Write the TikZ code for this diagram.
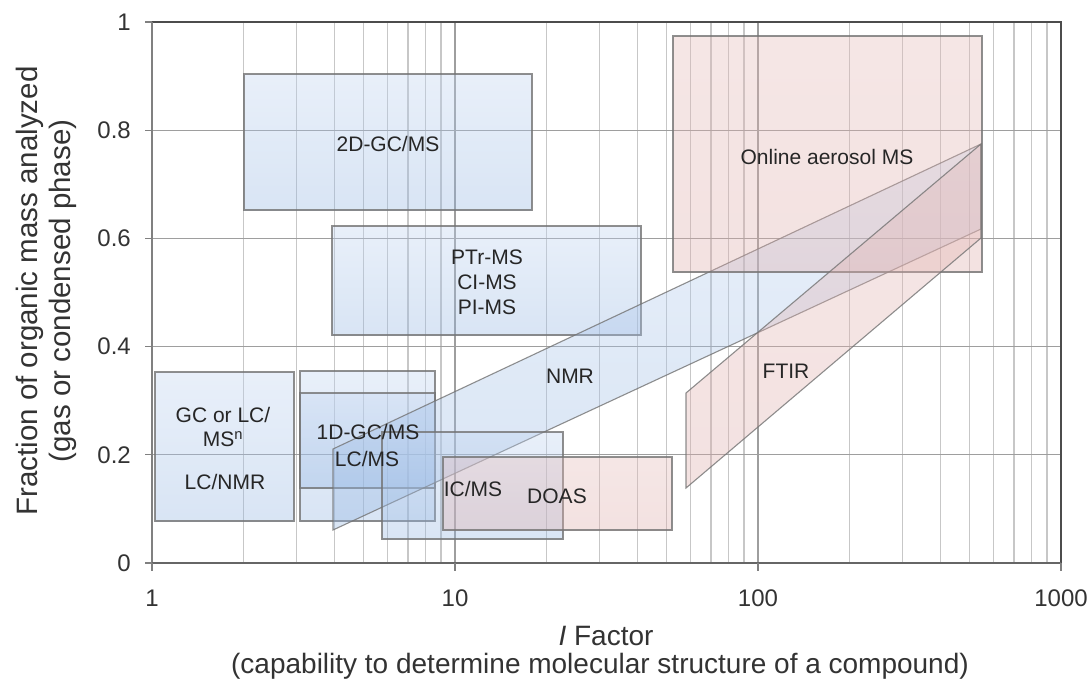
\documentclass[tikz,border=0pt]{standalone}
\usepackage{fontspec}
\setmainfont{Liberation Sans}
\begin{document}
\begin{tikzpicture}[x=1pt,y=-1pt,
  gridminor/.style={draw=black!22, line width=1.3pt},
  gridmajor/.style={draw=black!38, line width=1.3pt},
  bluebox/.style={draw=black!55, draw opacity=0.8, line width=1.1pt, top color=blueTop, bottom color=blueBot, fill opacity=0.35},
  pinkbox/.style={draw=black!55, draw opacity=0.8, line width=1.1pt, top color=pinkTop, bottom color=pinkBot, fill opacity=0.35},
  lbl/.style={text=black!85, font=\fontsize{21}{24}\selectfont, inner sep=0pt, align=center},
  tick/.style={text=black!80, font=\fontsize{24}{28}\selectfont, inner sep=0pt},
  title/.style={text=black!80, font=\fontsize{29.5}{33}\selectfont, inner sep=0pt, align=center}]
\definecolor{blueTop}{RGB}{192,212,241}
\definecolor{blueBot}{RGB}{146,181,226}
\definecolor{pinkTop}{RGB}{228,186,183}
\definecolor{pinkBot}{RGB}{222,172,170}
\useasboundingbox (0,0) rectangle (1090,683);
\fill[white] (0,0) rectangle (1090,683);
% grid
\foreach \d in {0,1,2}{
  \foreach \k in {2,...,9}{
    \draw[gridminor] ({152+303*(\d+log10(\k))},22) -- ({152+303*(\d+log10(\k))},563);
  }
}
\foreach \d in {1,2}{
  \draw[gridmajor] ({152+303*\d},22) -- ({152+303*\d},563);
}
\foreach \f in {0.2,0.4,0.6,0.8}{
  \draw[gridmajor] (152,{563-541*\f}) -- (1061,{563-541*\f});
}
% frame
\draw[black!70, line width=1.6pt] (152,22) -- (1061,22) -- (1061,563);
\draw[black!50, line width=1.3pt] (152,22) -- (152,563);
\draw[black!60, line width=1.5pt] (152,563) -- (1061,563);
\foreach \f in {0,0.2,0.4,0.6,0.8,1}{
  \draw[black!50, line width=1.3pt] (145,{563-541*\f}) -- (152,{563-541*\f});
}
\foreach \d in {0,1,2,3}{
  \draw[black!50, line width=1.3pt] ({152+303*\d},563) -- ({152+303*\d},571);
}
% data shapes
\path[bluebox] (244,74) rectangle (532,210);
\path[bluebox] (332,226) rectangle (641,335);
\path[bluebox] (155,372) rectangle (294,521);
\path[bluebox] (300,371) rectangle (435,521);
\path[bluebox] (300,393) rectangle (435,488);
\path[bluebox] (333,449) -- (981,144) -- (981,229) -- (333,530) -- cycle;
\path[bluebox] (382,432) rectangle (563,539);
\path[pinkbox] (443,457) rectangle (672,530);
\path[pinkbox] (673,36) rectangle (982,272);
\path[pinkbox] (686,393) -- (981,144) -- (981,238) -- (686,488) -- cycle;
% labels
\node[lbl] (gc1) at (223,415) {GC or LC/};
\node[lbl] (gc2) at (223,439) {MS\textsuperscript{n}};
\node[lbl] (lcnmr) at (225,482) {LC/NMR};
\node[lbl] (oned) at (368,432) {1D-GC/MS};
\node[lbl] (lcms) at (367,459) {LC/MS};
\node[lbl] (nmr) at (570,376) {NMR};
\node[lbl] (icms) at (473,489) {IC/MS};
\node[lbl] (doas) at (557,496) {DOAS};
\node[lbl] (twod) at (388,144) {2D-GC/MS};
\node[lbl] (ptr) at (487,257) {PTr-MS};
\node[lbl] (ci) at (487,282) {CI-MS};
\node[lbl] (pi) at (487,307) {PI-MS};
\node[lbl] (online) at (827,157) {Online aerosol MS};
\node[lbl] (ftir) at (786,371) {FTIR};
% tick labels
\node[tick, anchor=east] (y0) at (131,563) {0};
\node[tick, anchor=east] (y2) at (131,{563-541*0.2}) {0.2};
\node[tick, anchor=east] (y4) at (131,{563-541*0.4}) {0.4};
\node[tick, anchor=east] (y6) at (131,{563-541*0.6}) {0.6};
\node[tick, anchor=east] (y8) at (131,{563-541*0.8}) {0.8};
\node[tick, anchor=east] (y10) at (131,22) {1};
\node[tick] (x1) at (152,598) {1};
\node[tick] (x10) at (455,598) {10};
\node[tick] (x100) at (758,598) {100};
\node[tick] (x1000) at (1061,598) {1000};
% axis titles
\node[title, font=\fontsize{28}{32}\selectfont] (xt1) at (606,636) {\textit{I} Factor};
\node[title, font=\fontsize{28}{32}\selectfont] (xt2) at (600,666) {(capability to determine molecular structure of a compound)};
\node[title, rotate=90] (yt1) at (30,291) {Fraction of organic mass analyzed};
\node[title, rotate=90] (yt2) at (63,291) {(gas or condensed phase)};
\end{tikzpicture}
\end{document}
